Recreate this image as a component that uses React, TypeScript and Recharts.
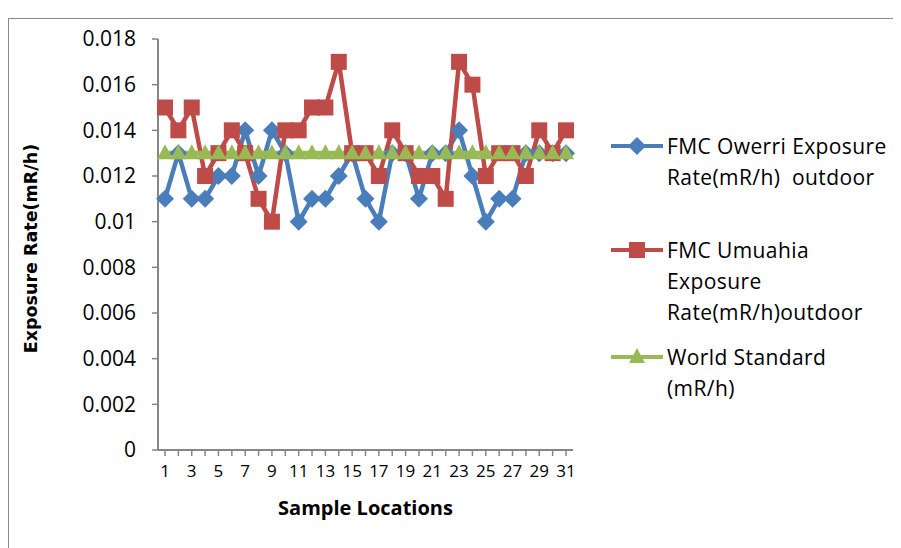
import { LineChart, Line, XAxis, YAxis } from 'recharts';

const locations = Array.from({ length: 31 }, (_, i) => String(i + 1));

const owerri = [
  0.011, 0.013, 0.011, 0.011, 0.012, 0.012, 0.014, 0.012, 0.014, 0.013,
  0.010, 0.011, 0.011, 0.012, 0.013, 0.011, 0.010, 0.013, 0.013, 0.011,
  0.013, 0.013, 0.014, 0.012, 0.010, 0.011, 0.011, 0.013, 0.013, 0.013,
  0.013,
];

const umuahia = [
  0.015, 0.014, 0.015, 0.012, 0.013, 0.014, 0.013, 0.011, 0.010, 0.014,
  0.014, 0.015, 0.015, 0.017, 0.013, 0.013, 0.012, 0.014, 0.013, 0.012,
  0.012, 0.011, 0.017, 0.016, 0.012, 0.013, 0.013, 0.012, 0.014, 0.013,
  0.014,
];

const worldStandard = [
  0.013, 0.013, 0.013, 0.013, 0.013, 0.013, 0.013, 0.013, 0.013, 0.013,
  0.013, 0.013, 0.013, 0.013, 0.013, 0.013, 0.013, 0.013, 0.013, 0.013,
  0.013, 0.013, 0.013, 0.013, 0.013, 0.013, 0.013, 0.013, 0.013, 0.013,
  0.013,
];

const yTicks = [0, 0.002, 0.004, 0.006, 0.008, 0.01, 0.012, 0.014, 0.016, 0.018];

const BLUE = '#4a7ebb';
const RED = '#be4b48';
const GREEN = '#98b954';
const AXIS = '#868686';
const FONT = '"Open Sans", sans-serif';

const chartData = locations.map((loc, i) => ({
  name: loc,
  owerri: owerri[i],
  umuahia: umuahia[i],
  world: worldStandard[i],
}));

const Diamond = ({ cx, cy }: any) => (
  <polygon
    points={`${cx},${cy - 9} ${cx + 9},${cy} ${cx},${cy + 9} ${cx - 9},${cy}`}
    fill={BLUE}
  />
);

const Square = ({ cx, cy }: any) => (
  <rect x={cx - 8} y={cy - 8} width={16} height={16} fill={RED} />
);

const Triangle = ({ cx, cy }: any) => (
  <polygon
    points={`${cx},${cy - 9} ${cx + 8},${cy + 6} ${cx - 8},${cy + 6}`}
    fill={GREEN}
  />
);

function LegendItem({
  color,
  marker,
  lines,
}: {
  color: string;
  marker: 'diamond' | 'square' | 'triangle';
  lines: string[];
}) {
  return (
    <div style={{ display: 'flex', alignItems: 'flex-start', marginBottom: 14 }}>
      <svg width={56} height={30} style={{ flexShrink: 0 }}>
        <line x1={0} y1={15} x2={52} y2={15} stroke={color} strokeWidth={4} />
        {marker === 'diamond' && <Diamond cx={26} cy={15} />}
        {marker === 'square' && <Square cx={26} cy={15} />}
        {marker === 'triangle' && <Triangle cx={26} cy={15} />}
      </svg>
      <div
        style={{
          fontFamily: FONT,
          fontSize: 21,
          letterSpacing: 0.4,
          lineHeight: '31px',
          color: '#000',
        }}
      >
        {lines.map((l) => (
          <div key={l} style={{ whiteSpace: 'pre' }}>{l}</div>
        ))}
      </div>
    </div>
  );
}

export default function App() {
  return (
    <div
      style={{
        position: 'relative',
        marginTop: 10,
        width: 900,
        height: 540,
        borderTop: '1px solid #888',
        borderLeft: '1px solid #888',
        boxSizing: 'border-box',
        overflow: 'hidden',
      }}
    >
      <LineChart
        width={885}
        height={530}
        data={chartData}
        margin={{ top: 20, right: 321, bottom: 19, left: 0 }}
      >
        <XAxis
          dataKey="name"
          interval={0}
          height={80}
          padding={{ left: 7, right: 7 }}
          stroke={AXIS}
          strokeWidth={2}
          tickSize={6}
          tickLine={{ stroke: AXIS, strokeWidth: 1.5 }}
          tick={{ fill: '#000', fontSize: 17, fontFamily: FONT }}
          tickFormatter={(v: string) => (Number(v) % 2 === 1 ? v : '')}
          tickMargin={9}
          label={{
            value: 'Sample Locations',
            position: 'insideBottom',
            offset: 15,
            style: { fontFamily: FONT, fontWeight: 700, fontSize: 20, fill: '#000' },
          }}
        />
        <YAxis
          width={149}
          domain={[0, 0.018]}
          ticks={yTicks}
          interval={0}
          stroke={AXIS}
          strokeWidth={2}
          tickSize={6}
          tickLine={{ stroke: AXIS, strokeWidth: 1.5 }}
          tick={{ fill: '#000', fontSize: 21, fontFamily: FONT }}
          tickFormatter={(v: number) => String(v)}
          tickMargin={16}
          label={{
            value: 'Exposure Rate(mR/h)',
            angle: -90,
            position: 'insideLeft',
            offset: 22,
            dy: 4,
            style: {
              fontFamily: '"DejaVu Sans", sans-serif',
              fontWeight: 700,
              fontSize: 17.5,
              fill: '#000',
              textAnchor: 'middle',
            },
          }}
        />
        <Line
          dataKey="owerri"
          stroke={BLUE}
          strokeWidth={4.5}
          dot={<Diamond />}
          activeDot={false}
          isAnimationActive={false}
        />
        <Line
          dataKey="umuahia"
          stroke={RED}
          strokeWidth={4.5}
          dot={<Square />}
          activeDot={false}
          isAnimationActive={false}
        />
        <Line
          dataKey="world"
          stroke={GREEN}
          strokeWidth={5}
          dot={<Triangle />}
          activeDot={false}
          isAnimationActive={false}
        />
      </LineChart>
      <div style={{ position: 'absolute', left: 602, top: 112 }}>
        <LegendItem
          color={BLUE}
          marker="diamond"
          lines={['FMC Owerri Exposure', 'Rate(mR/h)  outdoor']}
        />
        <div style={{ height: 28 }} />
        <LegendItem
          color={RED}
          marker="square"
          lines={['FMC Umuahia', 'Exposure', 'Rate(mR/h)outdoor']}
        />
        <LegendItem
          color={GREEN}
          marker="triangle"
          lines={['World Standard', '(mR/h)']}
        />
      </div>
    </div>
  );
}
